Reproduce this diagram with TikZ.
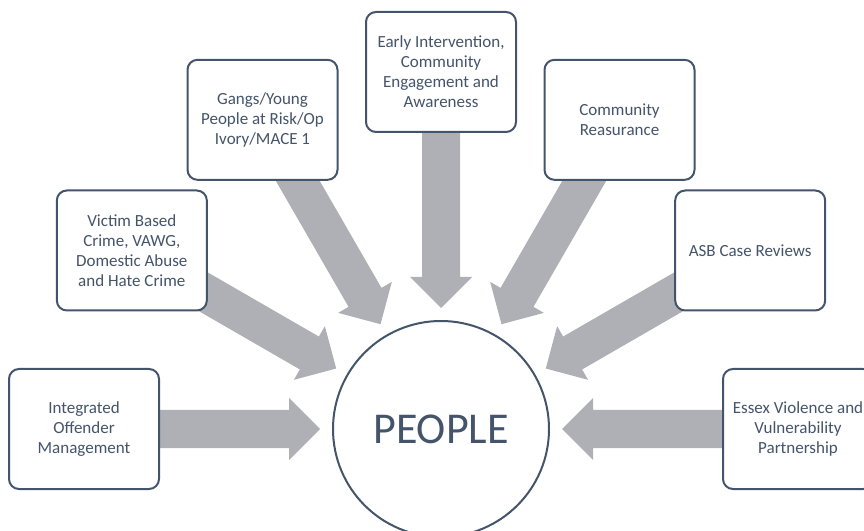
\documentclass[tikz,border=0pt]{standalone}
\usepackage{fontspec}
\setmainfont{Carlito}
\usetikzlibrary{calc,backgrounds}
\definecolor{slate}{RGB}{68,84,106}
\definecolor{arrowgray}{RGB}{174,176,182}
% block arrow from box #1 toward hub #2
\newcommand\blockarrow[2]{%
  \path ($(#2.center)!121pt!(#1.center)$) coordinate (tipA)
        ($(#2.center)!152pt!(#1.center)$) coordinate (headA)
        ($(#2.center)!305pt!(#1.center)$) coordinate (tailA);
  \fill[arrowbody] (tipA)
    -- ($(headA)!31pt!90:(#1.center)$)
    -- ($(headA)!19pt!90:(#1.center)$)
    -- ($(tailA)!19pt!90:(#1.center)$)
    -- ($(tailA)!19pt!-90:(#1.center)$)
    -- ($(headA)!19pt!-90:(#1.center)$)
    -- ($(headA)!31pt!-90:(#1.center)$)
    -- cycle;
}
\begin{document}
\begin{tikzpicture}[x=1pt,y=1pt,
  box/.style={draw=slate, line width=2pt, rounded corners=10pt, fill=white,
    minimum width=150pt, minimum height=120pt, align=center, text=slate,
    inner sep=2pt, font=\fontsize{17}{20}\selectfont},
  hub/.style={circle, draw=slate, line width=2pt, fill=white,
    minimum size=216pt, inner sep=0pt, outer sep=0pt, text=slate,
    font=\fontsize{44}{50}\selectfont},
  arrowbody/.style={fill=arrowgray}]
\useasboundingbox (0,0) rectangle (864,530);
\node[hub] (P) at (441,101) {PEOPLE};
\node[box] (b1) at ($(P.center)+(180:357pt)$) {Integrated\\Offender\\Management};
\node[box] (b2) at ($(P.center)+(150:357pt)$) {Victim Based\\Crime, VAWG,\\Domestic Abuse\\and Hate Crime};
\node[box] (b3) at ($(P.center)+(120:357pt)$) {Gangs/Young\\People at Risk/Op\\Ivory/MACE 1};
\node[box] (b4) at ($(P.center)+(90:357pt)$) {Early Intervention,\\Community\\Engagement and\\Awareness};
\node[box] (b5) at ($(P.center)+(60:357pt)$) {Community\\Reasurance};
\node[box] (b6) at ($(P.center)+(30:357pt)$) {ASB Case Reviews};
\node[box] (b7) at ($(P.center)+(0:357pt)$) {Essex Violence and\\Vulnerability\\Partnership};
\begin{scope}[on background layer]
\foreach \i in {1,...,7} {\blockarrow{b\i}{P}}
\end{scope}
\end{tikzpicture}
\end{document}
